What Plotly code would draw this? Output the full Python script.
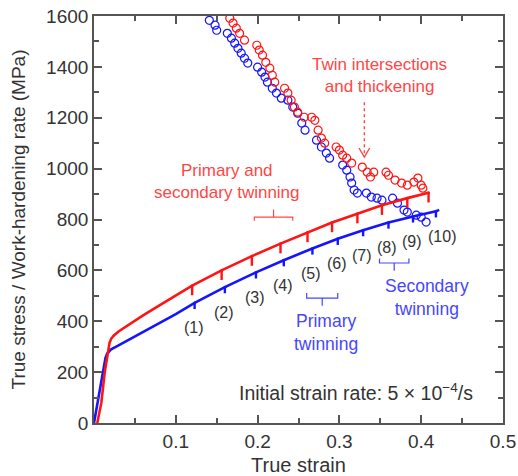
import plotly.graph_objects as go

# ---------------- data ----------------
red_strain = [0.004, 0.009, 0.013, 0.017, 0.019, 0.021, 0.024, 0.030, 0.045, 0.060, 0.080, 0.100,
              0.120, 0.156, 0.193, 0.228, 0.261, 0.291, 0.322, 0.352, 0.383, 0.409]
red_stress = [0, 80, 196, 287, 315, 331, 343, 360, 393, 423, 462, 501,
              540, 600, 656, 705, 749, 788, 823, 856, 884, 905]

blue_strain = [0.0, 0.005, 0.010, 0.014, 0.016, 0.018, 0.021, 0.030, 0.050, 0.077, 0.100,
               0.123, 0.160, 0.198, 0.232, 0.267, 0.298, 0.329, 0.360, 0.390, 0.418, 0.422]
blue_stress = [0, 90, 196, 255, 272, 281, 290, 305, 340, 386, 428,
               472, 534, 592, 640, 686, 724, 758, 788, 812, 832, 838]

red_tick_strain = [0.120, 0.156, 0.193, 0.228, 0.261, 0.291, 0.322, 0.352, 0.383, 0.409]
red_tick_stress = [540, 600, 656, 705, 749, 788, 823, 856, 884, 905]
blue_tick_strain = [0.123, 0.160, 0.198, 0.232, 0.267, 0.298, 0.329, 0.360, 0.390, 0.418]
blue_tick_stress = [472, 534, 592, 640, 686, 724, 758, 788, 812, 832]
tick_labels = ["(1)", "(2)", "(3)", "(4)", "(5)", "(6)", "(7)", "(8)", "(9)", "(10)"]

blue_wh_strain = [0.141, 0.148, 0.150, 0.163, 0.168, 0.172, 0.176, 0.180, 0.184, 0.188,
                  0.200, 0.205, 0.209, 0.212, 0.218, 0.223, 0.229, 0.237, 0.243, 0.249,
                  0.254, 0.258, 0.272, 0.278, 0.284, 0.288, 0.304, 0.309, 0.313, 0.315,
                  0.318, 0.322, 0.333, 0.339, 0.346, 0.352, 0.365, 0.371, 0.379, 0.383,
                  0.394, 0.400, 0.406]
blue_wh_rate = [1583, 1564, 1544, 1532, 1513, 1493, 1473, 1454, 1434, 1415,
                1399, 1379, 1360, 1340, 1316, 1297, 1277, 1269, 1242, 1218,
                1179, 1151, 1112, 1085, 1061, 1041, 1014, 994, 967, 943,
                916, 904, 904, 888, 884, 876, 884, 864, 837, 829,
                817, 809, 790]

red_wh_strain = [0.166, 0.170, 0.174, 0.178, 0.184, 0.199, 0.202, 0.206, 0.210, 0.215,
                 0.218, 0.221, 0.233, 0.237, 0.241, 0.245, 0.249, 0.257, 0.266, 0.270,
                 0.274, 0.278, 0.282, 0.296, 0.300, 0.304, 0.309, 0.315, 0.328, 0.334,
                 0.338, 0.342, 0.357, 0.360, 0.368, 0.376, 0.383, 0.391, 0.396, 0.400,
                 0.402]
red_wh_rate = [1591, 1572, 1552, 1532, 1505, 1485, 1466, 1446, 1418, 1395,
               1367, 1340, 1316, 1297, 1269, 1242, 1222, 1202, 1202, 1190,
               1151, 1120, 1100, 1085, 1073, 1053, 1041, 1022, 1006, 986,
               967, 986, 986, 974, 955, 943, 935, 947, 963, 935,
               923]

# bracket specs: (x0, x1, y, hook, center tick)
red_bracket = (0.196, 0.243, 809, -14, 30)
blue_bracket1 = (0.260, 0.298, 491, 20, -30)
blue_bracket2 = (0.349, 0.385, 629, 18, -30)
# dotted arrow: (x, y_top, y_tip)
arrow_spec = (0.3305, 1261, 1045)

RED = "rgb(255,20,20)"
BLUE = "rgb(20,20,255)"
RED_T = "rgb(255,70,70)"
BLUE_T = "rgb(70,70,255)"
GREY = "#333333"
AX = "#555555"

fig = go.Figure()

fig.add_trace(go.Scatter(x=blue_wh_strain, y=blue_wh_rate, mode="markers",
                         marker=dict(symbol="circle-open", size=8, color=BLUE,
                                     line=dict(width=1.2, color=BLUE)),
                         showlegend=False, hoverinfo="skip"))
fig.add_trace(go.Scatter(x=red_wh_strain, y=red_wh_rate, mode="markers",
                         marker=dict(symbol="circle-open", size=8, color=RED,
                                     line=dict(width=1.2, color=RED)),
                         showlegend=False, hoverinfo="skip"))

fig.add_trace(go.Scatter(x=blue_strain, y=blue_stress, mode="lines",
                         line=dict(color=BLUE, width=2.6, shape="linear"),
                         showlegend=False))
fig.add_trace(go.Scatter(x=red_strain, y=red_stress, mode="lines",
                         line=dict(color=RED, width=2.6, shape="linear"),
                         showlegend=False))

fig.add_trace(go.Scatter(x=red_tick_strain, y=red_tick_stress, mode="markers",
                         marker=dict(size=3, color=RED),
                         error_y=dict(type="data", symmetric=False,
                                      array=[0] * len(red_tick_stress),
                                      arrayminus=[38] * len(red_tick_stress),
                                      width=0, thickness=2.4, color=RED),
                         showlegend=False))
fig.add_trace(go.Scatter(x=blue_tick_strain, y=blue_tick_stress, mode="markers",
                         marker=dict(size=3, color=BLUE),
                         error_y=dict(type="data", symmetric=False,
                                      array=[0] * len(blue_tick_stress),
                                      arrayminus=[24] * len(blue_tick_stress),
                                      width=0, thickness=2.4, color=BLUE),
                         showlegend=False))

annotations = []
for xs, ys, lab in zip(blue_tick_strain, blue_tick_stress, tick_labels):
    annotations.append(dict(x=xs, y=ys, text=lab, showarrow=False, yshift=-25,
                            xshift=6 if len(lab) > 3 else -1,
                            font=dict(size=16, color=GREY)))

annotations += [
    dict(x=0.349, y=1368, text="Twin intersections<br>and thickening", showarrow=False,
         font=dict(size=17, color=RED_T)),
    dict(x=0.163, y=951, text="Primary and<br>secondary twinning", showarrow=False,
         font=dict(size=17, color=RED_T)),
    dict(x=0.284, y=354, text="Primary<br>twinning", showarrow=False,
         font=dict(size=17.5, color=BLUE_T)),
    dict(x=0.407, y=495, text="Secondary<br>twinning", showarrow=False,
         font=dict(size=17.5, color=BLUE_T)),
    dict(x=0.320, y=122, text="Initial strain rate: 5 \u00d7 10<sup>\u22124</sup>/s",
         showarrow=False, font=dict(size=19.5, color=GREY)),
]

ax_x, ax_top, ax_tip = arrow_spec
shapes = [
    dict(type="line", xref="x", yref="y", x0=ax_x, x1=ax_x, y0=ax_top, y1=ax_tip + 8,
         line=dict(color=RED_T, width=1.4, dash="dot")),
    dict(type="path", xref="x", yref="y",
         path=f"M {ax_x - 0.0065} {ax_tip + 36} L {ax_x} {ax_tip} L {ax_x + 0.0065} {ax_tip + 36}",
         line=dict(color=RED_T, width=1.4)),
]


def bracket(spec, color):
    x0, x1, y, hook, tick = spec
    xc = (x0 + x1) / 2
    path = (f"M {x0} {y + hook} L {x0} {y} L {x1} {y} L {x1} {y + hook} "
            f"M {xc} {y} L {xc} {y + tick}")
    return dict(type="path", xref="x", yref="y", path=path,
                line=dict(color=color, width=1.2))


shapes += [bracket(red_bracket, RED_T), bracket(blue_bracket1, BLUE_T),
           bracket(blue_bracket2, BLUE_T)]

fig.update_layout(
    width=518, height=476,
    margin=dict(l=94, r=15, t=16, b=53),
    paper_bgcolor="white", plot_bgcolor="white",
    font=dict(family="Liberation Sans, Arial, sans-serif", color=GREY),
    annotations=annotations, shapes=shapes,
    showlegend=False,
)
fig.update_xaxes(range=[0, 0.5], tickmode="array",
                 tickvals=[0.1, 0.2, 0.3, 0.4, 0.5],
                 ticktext=["0.1", "0.2", "0.3", "0.4", "0.5"],
                 ticks="inside", ticklen=8, tickwidth=1.5, tickcolor=AX,
                 minor=dict(tickmode="linear", tick0=0, dtick=0.05, ticks="inside",
                            ticklen=5, tickwidth=1.5, tickcolor=AX, showgrid=False),
                 showline=True, linecolor=AX, linewidth=1.6, mirror="ticks",
                 showgrid=False, zeroline=False, automargin=False,
                 tickfont=dict(size=19, color=GREY),
                 title=dict(text="True strain", font=dict(size=20, color=GREY)))
fig.update_yaxes(range=[0, 1600], tickmode="linear", tick0=0, dtick=200,
                 ticks="inside", ticklen=8, tickwidth=1.5, tickcolor=AX,
                 minor=dict(tickmode="linear", tick0=0, dtick=100, ticks="inside",
                            ticklen=5, tickwidth=1.5, tickcolor=AX, showgrid=False),
                 showline=True, linecolor=AX, linewidth=1.6, mirror="ticks",
                 showgrid=False, zeroline=False, automargin=False,
                 tickfont=dict(size=19, color=GREY),
                 title=dict(text="True stress / Work-hardening rate (MPa)",
                            font=dict(size=19, color=GREY)))

fig.write_html("out.html")
